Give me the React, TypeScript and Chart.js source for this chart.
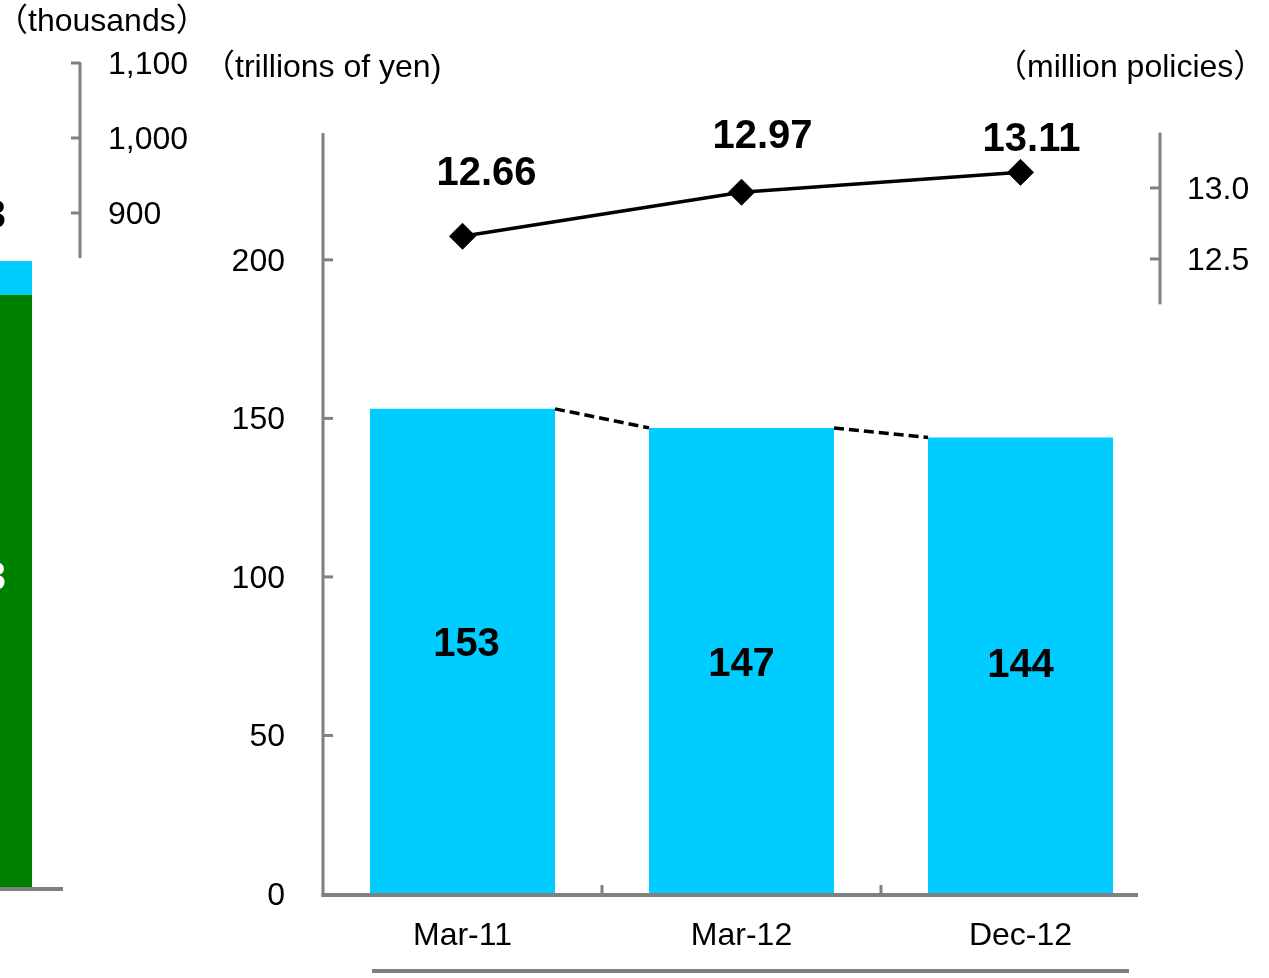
import React, { useEffect, useRef } from "react";
import { Chart, registerables } from "chart.js";

Chart.register(...registerables);

// ---------- data ----------
const categories = ["Mar-11", "Mar-12", "Dec-12"];
const assets = [153, 147, 144]; // trillions of yen (bars)
const policies = [12.66, 12.97, 13.11]; // million policies (line)
const policyLabels = ["12.66", "12.97", "13.11"];
const leftTicks = [0, 50, 100, 150, 200];
const rightTicks = [12.5, 13.0];
const rightAxisSpan = [12.18, 13.39];

// neighbouring (cropped) chart on the far left
const sideCategories = [""];
const sideGreen = [791];
const sideCyan = [45];
const sideTicks = [900, 1000, 1100];
const sideAxisSpan = [840, 1101];

// ---------- styles ----------
const FONT = "'Liberation Sans', Arial, 'Noto Sans CJK JP', sans-serif";
const AXIS = "#808080";
const CYAN = "#00CCFF";
const GREEN = "#008000";
const W = 1269;
const H = 978;
const TXT = 32;
const BOLD = 40;
const DY = 2; // visual baseline correction for 'middle' text

function seg(ctx: CanvasRenderingContext2D, x1: number, y1: number, x2: number, y2: number) {
  ctx.beginPath();
  ctx.moveTo(x1, y1);
  ctx.lineTo(x2, y2);
  ctx.stroke();
}

const mainOverlay = {
  id: "mainOverlay",
  afterDatasetsDraw(chart: any) {
    const ctx: CanvasRenderingContext2D = chart.ctx;
    const { left, right, top, bottom } = chart.chartArea;
    const xs = chart.scales.x;
    const ys = chart.scales.y;
    const y1 = chart.scales.y1;
    const bars = chart.getDatasetMeta(1).data;
    const pts = chart.getDatasetMeta(0).data;
    ctx.save();

    // axes
    ctx.strokeStyle = AXIS;
    ctx.lineWidth = 3;
    seg(ctx, left, top, left, bottom + 3);
    leftTicks.forEach((v) => {
      const p = ys.getPixelForValue(v);
      if (v > 0) seg(ctx, left, p, left + 10, p);
    });
    ctx.lineWidth = 4;
    seg(ctx, left - 1.5, bottom + 1, right - 22, bottom + 1);
    ctx.lineWidth = 3;
    for (let i = 0; i < categories.length - 1; i++) {
      const bx = (xs.getPixelForValue(i) + xs.getPixelForValue(i + 1)) / 2;
      seg(ctx, bx, bottom, bx, bottom - 9);
    }
    seg(ctx, right, y1.getPixelForValue(rightAxisSpan[1]), right, y1.getPixelForValue(rightAxisSpan[0]));
    rightTicks.forEach((v) => {
      const p = y1.getPixelForValue(v);
      seg(ctx, right - 10, p, right, p);
    });
    // underline below categories
    ctx.lineWidth = 4;
    seg(ctx, 372, 971, 1129, 971);

    // dashed connectors between bar tops
    ctx.strokeStyle = "#000";
    ctx.lineWidth = 3.5;
    ctx.setLineDash([10, 5]);
    for (let i = 0; i < bars.length - 1; i++) {
      const a = bars[i];
      const b = bars[i + 1];
      seg(ctx, a.x + a.width / 2, a.y, b.x - b.width / 2, b.y);
    }
    ctx.setLineDash([]);

    ctx.fillStyle = "#000";
    ctx.textBaseline = "middle";

    // axis tick labels
    ctx.font = `${TXT}px ${FONT}`;
    ctx.textAlign = "right";
    leftTicks.forEach((v) => {
      ctx.fillText(String(v), left - 38, ys.getPixelForValue(v) + DY);
    });
    ctx.textAlign = "left";
    rightTicks.forEach((v) => {
      ctx.fillText(v.toFixed(1), right + 27, y1.getPixelForValue(v) + DY);
    });

    // bar value labels
    ctx.font = `bold ${BOLD}px ${FONT}`;
    ctx.textAlign = "center";
    const barOff = [[4, -8], [0, 2], [0, -2]];
    bars.forEach((b: any, i: number) => {
      ctx.fillText(String(assets[i]), b.x + barOff[i][0], (b.y + b.base) / 2 + barOff[i][1] + DY);
    });

    // line value labels
    const lineOff = [[24, -64], [21, -57], [11, -34]];
    pts.forEach((p: any, i: number) => {
      ctx.fillText(policyLabels[i], p.x + lineOff[i][0], p.y + lineOff[i][1] + DY);
    });

    // unit titles
    ctx.font = `${TXT}px ${FONT}`;
    ctx.textAlign = "left";
    ctx.fillText("（trillions of yen)", 203, 66 + DY);
    ctx.fillText("（million policies）", 995, 66 + DY);
    ctx.restore();
  },
};

const sideOverlay = {
  id: "sideOverlay",
  afterDatasetsDraw(chart: any) {
    const ctx: CanvasRenderingContext2D = chart.ctx;
    const { left, right, bottom } = chart.chartArea;
    const ys = chart.scales.y;
    ctx.save();
    ctx.strokeStyle = AXIS;
    ctx.lineWidth = 3;
    seg(ctx, right, ys.getPixelForValue(sideAxisSpan[1]), right, ys.getPixelForValue(sideAxisSpan[0]));
    sideTicks.forEach((v) => {
      const p = ys.getPixelForValue(v);
      seg(ctx, right - 9, p, right, p);
    });
    ctx.lineWidth = 4;
    seg(ctx, left, bottom + 1, right - 17, bottom + 1);

    ctx.textBaseline = "middle";
    ctx.fillStyle = "#000";
    ctx.font = `${TXT}px ${FONT}`;
    ctx.textAlign = "left";
    sideTicks.forEach((v) => {
      ctx.fillText(v.toLocaleString("en-US"), right + 28, ys.getPixelForValue(v) + DY);
    });

    ctx.font = `bold ${BOLD}px ${FONT}`;
    ctx.textAlign = "right";
    ctx.fillText("3", 166, 215 + DY);
    ctx.fillStyle = "#fff";
    ctx.fillText("3", 166, 577 + DY);

    ctx.fillStyle = "#000";
    ctx.font = `${TXT}px ${FONT}`;
    ctx.textAlign = "left";
    ctx.fillText("（thousands）", 156, 20 + DY);
    ctx.restore();
  },
};

export default function App() {
  const mainRef = useRef<HTMLCanvasElement>(null);
  const sideRef = useRef<HTMLCanvasElement>(null);

  useEffect(() => {
    const tickFont = { family: FONT, size: TXT };
    const main = new Chart(mainRef.current!, {
      type: "bar",
      data: {
        labels: categories,
        datasets: [
          {
            type: "line",
            data: policies,
            yAxisID: "y1",
            borderColor: "#000",
            borderWidth: 3.5,
            pointStyle: "rectRot",
            pointRadius: 13,
            pointBackgroundColor: "#000",
            pointBorderColor: "#000",
            pointBorderWidth: 1,
            tension: 0,
            order: 0,
          } as any,
          {
            type: "bar",
            data: assets,
            yAxisID: "y",
            backgroundColor: CYAN,
            barPercentage: 0.663,
            categoryPercentage: 1,
            order: 1,
          },
        ],
      },
      options: {
        responsive: false,
        animation: false,
        events: [],
        layout: { padding: { left: 0, right: 0, top: 133, bottom: 0 } },
        plugins: { legend: { display: false }, tooltip: { enabled: false } },
        scales: {
          x: {
            type: "category",
            offset: true,
            grid: { display: false, drawTicks: false },
            border: { display: false },
            ticks: { font: tickFont, color: "#000", padding: 23, maxRotation: 0, autoSkip: false },
            afterFit(s: any) {
              s.height = 84;
            },
          },
          y: {
            position: "left",
            min: 0,
            max: 240,
            grid: { display: false, drawTicks: false },
            border: { display: false },
            ticks: { display: false },
            afterBuildTicks(s: any) {
              s.ticks = leftTicks.map((v) => ({ value: v }));
            },
            afterFit(s: any) {
              s.width = 323;
            },
          },
          y1: {
            position: "right",
            min: 8.028,
            max: 13.387,
            grid: { display: false, drawTicks: false },
            border: { display: false },
            ticks: { display: false },
            afterBuildTicks(s: any) {
              s.ticks = rightTicks.map((v) => ({ value: v }));
            },
            afterFit(s: any) {
              s.width = 109;
            },
          },
        },
      } as any,
      plugins: [mainOverlay],
    });

    const side = new Chart(sideRef.current!, {
      type: "bar",
      data: {
        labels: sideCategories,
        datasets: [
          { data: sideGreen, backgroundColor: GREEN, barPercentage: 0.467, categoryPercentage: 1 },
          { data: sideCyan, backgroundColor: CYAN, barPercentage: 0.467, categoryPercentage: 1 },
        ],
      },
      options: {
        responsive: false,
        animation: false,
        events: [],
        layout: { padding: { left: 60, right: 0, top: 63, bottom: 90 } },
        plugins: { legend: { display: false }, tooltip: { enabled: false } },
        scales: {
          x: { stacked: true, display: false },
          y: {
            stacked: true,
            position: "right",
            min: 0,
            max: 1100,
            grid: { display: false, drawTicks: false },
            border: { display: false },
            ticks: { display: false },
            afterBuildTicks(s: any) {
              s.ticks = sideTicks.map((v) => ({ value: v }));
            },
            afterFit(s: any) {
              s.width = 130;
            },
          },
        },
      } as any,
      plugins: [sideOverlay],
    });

    return () => {
      main.destroy();
      side.destroy();
    };
  }, []);

  return (
    <div
      style={{
        position: "fixed",
        left: 0,
        top: 0,
        width: W,
        height: H,
        overflow: "hidden",
        background: "#fff",
      }}
    >
      <canvas
        ref={mainRef}
        width={W}
        height={H}
        style={{ position: "absolute", left: 0, top: 0, width: W, height: H }}
      />
      <canvas
        ref={sideRef}
        width={370}
        height={H}
        style={{ position: "absolute", left: -160, top: 0, width: 370, height: H }}
      />
    </div>
  );
}
